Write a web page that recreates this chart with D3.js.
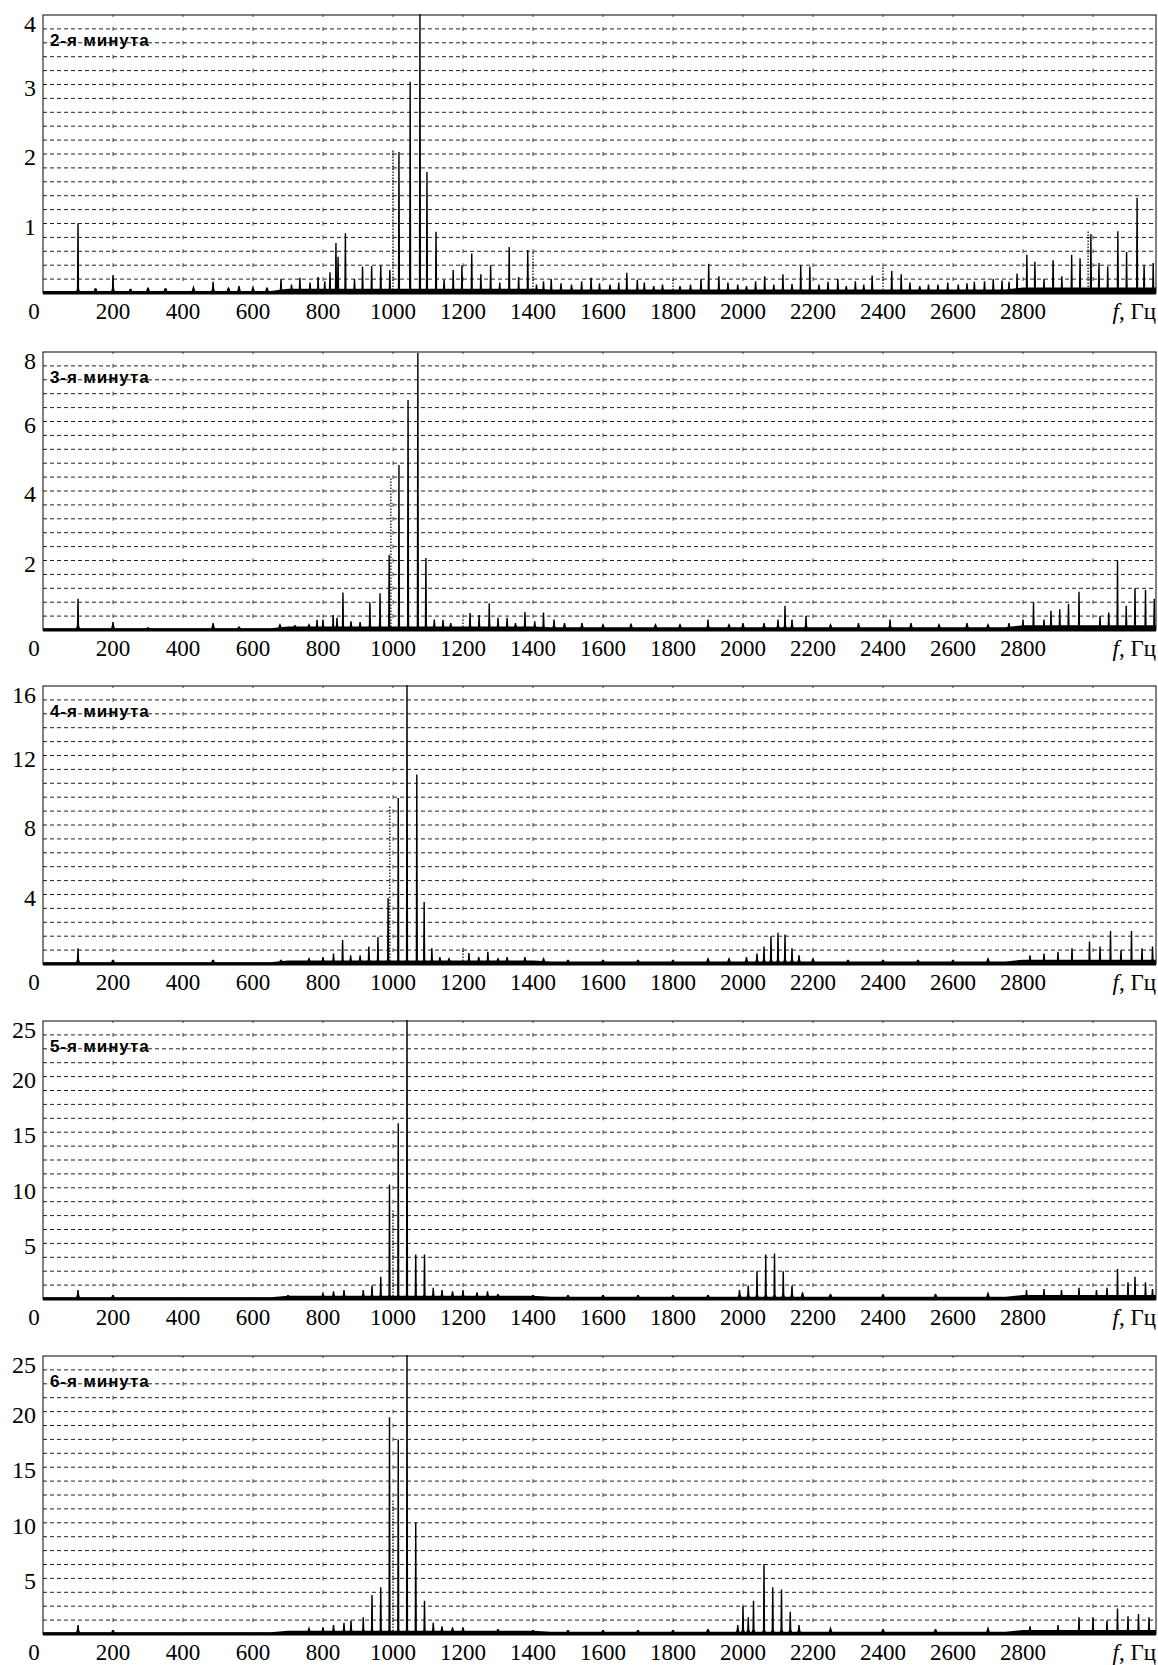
<!DOCTYPE html>
<html>
<head>
<meta charset="utf-8">
<script src="https://cdn.jsdelivr.net/npm/d3@7"></script>
<style>
  body { margin: 0; background: #fff; }
  svg { display: block; }
</style>
</head>
<body>
<svg id="chart" width="1158" height="1665"></svg>
<script>
// ---- data -------------------------------------------------------------
const freqTickLabels = [0, 200, 400, 600, 800, 1000, 1200, 1400, 1600, 1800, 2000, 2200, 2400, 2600, 2800];
const gridFreqs = [200, 400, 600, 800, 1000, 1200, 1400, 1600, 1800, 2000, 2200, 2400, 2600, 2800, 3000];

const minuteLabels = ["2-я минута", "3-я минута", "4-я минута", "5-я минута", "6-я минута"];
const yMaxima = [4, 8, 16, 25, 25];
const yGridSteps = [0.2, 0.4, 0.8, 1.25, 1.25];
const yTicks1 = [1, 2, 3, 4];
const yTicks2 = [2, 4, 6, 8];
const yTicks3 = [4, 8, 12, 16];
const yTicks4 = [5, 10, 15, 20, 25];
const yTicks5 = [5, 10, 15, 20, 25];

// spectral lines [frequency, amplitude]
const peaks1 = [
  [100,1.0],[150,0.06],[200,0.26],[250,0.05],[300,0.07],[350,0.06],[430,0.08],[486,0.16],[530,0.07],[560,0.1],
  [600,0.08],[640,0.07],[680,0.2],[710,0.12],[734,0.22],[763,0.15],[786,0.23],[805,0.17],[820,0.3],[837,0.72],
  [843,0.52],[864,0.86],[890,0.2],[913,0.38],[939,0.39],[965,0.4],[991,0.33],[1017,2.03],[1049,3.04],[1077,4.05],
  [1097,1.74],[1123,0.88],[1146,0.19],[1172,0.33],[1197,0.4],[1225,0.57],[1251,0.27],[1279,0.4],[1305,0.15],[1332,0.66],
  [1359,0.23],[1385,0.62],[1410,0.12],[1430,0.17],[1452,0.2],[1480,0.14],[1510,0.12],[1539,0.17],[1566,0.22],[1590,0.14],
  [1620,0.12],[1645,0.15],[1668,0.29],[1698,0.19],[1718,0.15],[1745,0.1],[1770,0.12],[1820,0.1],[1850,0.12],[1880,0.2],
  [1902,0.42],[1931,0.24],[1957,0.15],[1985,0.12],[2010,0.1],[2036,0.17],[2062,0.24],[2088,0.12],[2114,0.27],[2140,0.13],
  [2165,0.4],[2191,0.38],[2217,0.12],[2243,0.16],[2271,0.2],[2295,0.1],[2321,0.17],[2345,0.12],[2369,0.25],[2425,0.32],
  [2452,0.27],[2477,0.15],[2505,0.1],[2530,0.12],[2557,0.12],[2585,0.15],[2615,0.12],[2640,0.14],[2661,0.16],[2690,0.17],
  [2715,0.2],[2740,0.18],[2760,0.16],[2783,0.28],[2811,0.55],[2834,0.45],[2860,0.2],[2886,0.47],[2911,0.24],[2939,0.55],
  [2963,0.5],[2994,0.85],[3017,0.43],[3042,0.38],[3071,0.89],[3096,0.59],[3126,1.37],[3146,0.4],[3172,0.43]
];
const peaks2 = [
  [100,0.9],[200,0.23],[300,0.06],[486,0.2],[560,0.08],[677,0.15],[720,0.12],[760,0.15],[783,0.29],[800,0.3],
  [829,0.43],[840,0.35],[857,1.08],[880,0.25],[906,0.23],[934,0.8],[963,1.06],[989,2.16],[1017,4.75],[1043,6.62],
  [1071,7.97],[1094,2.07],[1118,0.3],[1143,0.29],[1165,0.2],[1220,0.49],[1246,0.43],[1275,0.77],[1300,0.35],[1326,0.35],
  [1350,0.2],[1377,0.52],[1405,0.25],[1430,0.5],[1460,0.3],[1490,0.2],[1540,0.2],[1600,0.15],[1680,0.18],[1750,0.15],
  [1820,0.15],[1900,0.3],[1960,0.15],[2000,0.2],[2060,0.2],[2100,0.3],[2120,0.7],[2140,0.3],[2180,0.4],[2250,0.15],
  [2330,0.2],[2420,0.3],[2480,0.2],[2560,0.15],[2640,0.2],[2700,0.15],[2760,0.2],[2800,0.3],[2830,0.8],[2860,0.3],
  [2880,0.55],[2905,0.6],[2930,0.75],[2960,1.1],[3020,0.4],[3045,0.5],[3070,2.0],[3095,0.7],[3120,1.2],[3150,1.15],
  [3175,0.9]
];
const peaks3 = [
  [100,0.9],[200,0.2],[486,0.2],[680,0.2],[760,0.3],[800,0.4],[830,0.6],[856,1.38],[879,0.5],[906,0.5],
  [931,1.0],[957,1.55],[986,3.8],[1015,9.55],[1040,16.1],[1068,10.9],[1089,3.57],[1111,0.9],[1134,0.4],[1160,0.3],
  [1217,0.63],[1245,0.4],[1271,0.7],[1300,0.3],[1326,0.4],[1377,0.4],[1430,0.3],[1500,0.2],[1600,0.2],[1700,0.2],
  [1800,0.2],[1900,0.3],[1960,0.3],[2010,0.4],[2040,0.6],[2060,1.0],[2080,1.6],[2100,1.8],[2120,1.7],[2140,0.9],
  [2160,0.5],[2200,0.3],[2300,0.2],[2400,0.2],[2500,0.2],[2600,0.2],[2700,0.3],[2820,0.5],[2860,0.6],[2900,0.7],
  [2940,0.9],[2990,1.3],[3020,1.0],[3050,1.9],[3080,0.8],[3110,1.9],[3140,0.9],[3170,1.0]
];
const peaks4 = [
  [100,0.8],[200,0.3],[700,0.3],[800,0.5],[830,0.7],[860,0.8],[915,0.8],[940,1.2],[965,2.0],[990,10.3],
  [1015,15.8],[1040,25.6],[1065,4.0],[1090,4.0],[1115,1.0],[1140,0.8],[1170,0.7],[1200,0.8],[1240,0.6],[1270,0.7],
  [1300,0.4],[1400,0.3],[1500,0.3],[1600,0.3],[1700,0.3],[1800,0.3],[1900,0.3],[1990,0.8],[2015,1.2],[2040,2.5],
  [2065,4.0],[2090,4.1],[2115,2.5],[2140,1.2],[2170,0.6],[2250,0.4],[2400,0.4],[2550,0.4],[2700,0.5],[2810,0.8],
  [2860,0.9],[2910,0.8],[2960,1.0],[3010,0.8],[3040,1.0],[3070,2.7],[3100,1.5],[3120,2.0],[3150,1.5],[3170,0.9]
];
const peaks5 = [
  [100,0.8],[200,0.3],[760,0.5],[800,0.6],[830,0.8],[860,1.0],[880,1.2],[915,1.5],[940,3.5],[965,4.2],
  [990,19.5],[1015,17.5],[1040,25.6],[1065,10.0],[1090,3.0],[1115,1.0],[1140,0.7],[1170,0.6],[1200,0.6],[1300,0.4],
  [1400,0.3],[1500,0.3],[1600,0.3],[1700,0.3],[1800,0.3],[1900,0.4],[1985,0.8],[2000,2.5],[2015,1.5],[2030,3.0],
  [2060,6.3],[2085,4.2],[2110,4.0],[2135,2.0],[2160,0.8],[2250,0.5],[2400,0.4],[2550,0.4],[2700,0.5],[2820,0.7],
  [2900,0.8],[2960,1.5],[3000,1.5],[3040,1.2],[3070,2.3],[3100,1.6],[3130,1.8],[3160,1.5]
];

// lines traced with a dotted pen
const dotted1 = [[1000,2.06],[1400,0.6],[1800,0.19],[2400,0.38],[2986,0.9]];
const dotted2 = [[994,4.4],[1200,0.3]];
const dotted3 = [[991,9.15],[1200,0.9]];
const dotted4 = [[1000,8.0]];
const dotted5 = [[1000,12.0]];

// background noise level [frequency, amplitude]
const floor1 = [[0,0.03],[650,0.03],[700,0.06],[1400,0.06],[1450,0.05],[2750,0.05],[2800,0.08],[3180,0.08]];
const floor2 = [[0,0.05],[650,0.05],[700,0.1],[1400,0.1],[1450,0.08],[2750,0.08],[2800,0.14],[3180,0.14]];
const floor3 = [[0,0.1],[650,0.1],[700,0.2],[1400,0.2],[1450,0.15],[2750,0.15],[2800,0.25],[3180,0.25]];
const floor4 = [[0,0.15],[650,0.15],[700,0.3],[1400,0.3],[1450,0.2],[2750,0.2],[2800,0.35],[3180,0.35]];
const floor5 = [[0,0.15],[650,0.15],[700,0.3],[1400,0.3],[1450,0.2],[2750,0.2],[2800,0.35],[3180,0.35]];

const peakSets = [peaks1, peaks2, peaks3, peaks4, peaks5];
const dottedSets = [dotted1, dotted2, dotted3, dotted4, dotted5];
const floorSets = [floor1, floor2, floor3, floor4, floor5];
const yTickSets = [yTicks1, yTicks2, yTicks3, yTicks4, yTicks5];

// ---- layout -----------------------------------------------------------
const svg = d3.select("#chart");
const plotLeft = 43, plotRight = 1156;
const panelTops = [15, 352, 686, 1021, 1356];
const panelH = 278;
const fMax = 3180;

const x = d3.scaleLinear().domain([0, fMax]).range([plotLeft, plotRight]);

const serif = "'Liberation Serif', 'Times New Roman', serif";
const sans = "'Liberation Sans', Arial, sans-serif";

panelTops.forEach((top, i) => {
  const bottom = top + panelH;
  const yMax = yMaxima[i];
  const y = d3.scaleLinear().domain([0, yMax]).range([bottom, top]);
  const g = svg.append("g");

  const clipId = "clip" + i;
  svg.append("clipPath").attr("id", clipId)
    .append("rect").attr("x", plotLeft).attr("y", top - 1)
    .attr("width", plotRight - plotLeft).attr("height", panelH + 1);

  // horizontal dashed grid
  const step = yGridSteps[i];
  const nLines = Math.round(yMax / step);
  const hVals = d3.range(1, nLines).map(k => k * step);
  g.append("g").selectAll("line").data(hVals).join("line")
    .attr("x1", plotLeft).attr("x2", plotRight)
    .attr("y1", d => y(d)).attr("y2", d => y(d))
    .attr("stroke", "#222").attr("stroke-width", 1)
    .attr("stroke-dasharray", "4,3");

  // vertical grid: short marks where it crosses the horizontal lines
  const pxStep = y(0) - y(step);
  g.append("g").selectAll("line").data(gridFreqs).join("line")
    .attr("x1", d => x(d)).attr("x2", d => x(d))
    .attr("y1", top).attr("y2", bottom)
    .attr("stroke", "#333").attr("stroke-width", 0.9)
    .attr("stroke-dasharray", `4,${(pxStep - 4).toFixed(3)}`)
    .attr("stroke-dashoffset", 2);

  // noise floor
  const area = d3.area()
    .x(d => x(d[0])).y0(y(0)).y1(d => y(d[1]));
  const plot = g.append("g").attr("clip-path", `url(#${clipId})`);
  plot.append("path").datum(floorSets[i]).attr("d", area)
    .attr("fill", "#000");

  // spectral lines: a thin stem with a small skirt at the base
  const spike = d3.line().x(d => x(d[0])).y(d => y(d[1]));
  const skirt = yMax * 0.015;
  plot.append("g").selectAll("path").data(peakSets[i]).join("path")
    .attr("d", d => spike([
      [d[0] - 5, 0], [d[0] - 1.2, Math.min(d[1], skirt)], [d[0], d[1]],
      [d[0] + 1.2, Math.min(d[1], skirt)], [d[0] + 5, 0]
    ]))
    .attr("fill", "#000").attr("stroke", "#000").attr("stroke-width", 1.4)
    .attr("stroke-linejoin", "miter");

  plot.append("g").selectAll("line").data(dottedSets[i]).join("line")
    .attr("x1", d => x(d[0])).attr("x2", d => x(d[0]))
    .attr("y1", y(0)).attr("y2", d => y(d[1]))
    .attr("stroke", "#000").attr("stroke-width", 1.2)
    .attr("stroke-dasharray", "1.5,1.5");

  // frame
  g.append("rect").attr("x", plotLeft).attr("y", top)
    .attr("width", plotRight - plotLeft).attr("height", panelH)
    .attr("fill", "none").attr("stroke", "#1a1a1a").attr("stroke-width", 1.1);
  g.append("line").attr("x1", plotLeft).attr("x2", plotRight)
    .attr("y1", bottom).attr("y2", bottom)
    .attr("stroke", "#000").attr("stroke-width", 3);

  // y labels
  g.append("g").selectAll("text").data(yTickSets[i]).join("text")
    .attr("x", 36)
    .attr("y", d => y(d) + (d === yMax ? 9 : 3))
    .attr("text-anchor", "end").attr("dominant-baseline", "central")
    .attr("font-family", serif).attr("font-size", 24)
    .text(d => d);

  // x labels
  g.append("g").selectAll("text").data(freqTickLabels).join("text")
    .attr("x", d => d === 0 ? 34 : x(d))
    .attr("y", bottom + 26)
    .attr("text-anchor", "middle")
    .attr("font-family", serif).attr("font-size", 23)
    .text(d => d);

  const unit = g.append("text")
    .attr("x", plotRight).attr("y", bottom + 26)
    .attr("text-anchor", "end")
    .attr("font-family", serif).attr("font-size", 23);
  unit.append("tspan").attr("font-style", "italic").text("f");
  unit.append("tspan").text(", Гц");

  // panel caption
  g.append("text")
    .attr("x", 50).attr("y", top + 31)
    .attr("font-family", sans).attr("font-weight", "bold")
    .attr("font-size", 17).attr("letter-spacing", 0.9)
    .text(minuteLabels[i]);
});
</script>
</body>
</html>
